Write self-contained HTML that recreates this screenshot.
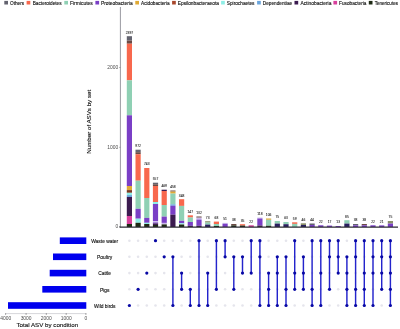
<!DOCTYPE html>
<html><head><meta charset="utf-8"><title>UpSet plot</title>
<style>html,body{margin:0;padding:0;background:#fff}svg{display:block}text{font-family:"Liberation Sans",Arial,sans-serif}</style></head><body>
<svg width="400" height="329" viewBox="0 0 400 329">
<rect width="400" height="329" fill="#fff"/>
<g font-size="4.9" fill="#111" stroke="#111" stroke-width="0.12">
<rect x="4.3" y="0.9" width="3.7" height="3.6" fill="#63636f" stroke="none"/>
<text x="10.0" y="4.9" textLength="14.2" lengthAdjust="spacingAndGlyphs">Others</text>
<rect x="26.6" y="0.9" width="3.7" height="3.6" fill="#f8684d" stroke="none"/>
<text x="32.7" y="4.9" textLength="28.9" lengthAdjust="spacingAndGlyphs">Bacteroidetes</text>
<rect x="64.3" y="0.9" width="3.7" height="3.6" fill="#8fd0b4" stroke="none"/>
<text x="70.0" y="4.9" textLength="22.7" lengthAdjust="spacingAndGlyphs">Firmicutes</text>
<rect x="95.4" y="0.9" width="3.7" height="3.6" fill="#7a3fc6" stroke="none"/>
<text x="100.9" y="4.9" textLength="31.7" lengthAdjust="spacingAndGlyphs">Proteobacteria</text>
<rect x="135.3" y="0.9" width="3.7" height="3.6" fill="#e0aa34" stroke="none"/>
<text x="141.0" y="4.9" textLength="28.6" lengthAdjust="spacingAndGlyphs">Acidobacteria</text>
<rect x="172.1" y="0.9" width="3.7" height="3.6" fill="#a8482c" stroke="none"/>
<text x="177.8" y="4.9" textLength="41.1" lengthAdjust="spacingAndGlyphs">Epsilonbacteraeota</text>
<rect x="221.1" y="0.9" width="3.7" height="3.6" fill="#8eeee6" stroke="none"/>
<text x="226.8" y="4.9" textLength="27.7" lengthAdjust="spacingAndGlyphs">Spirochaetes</text>
<rect x="257.1" y="0.9" width="3.7" height="3.6" fill="#6aa5dc" stroke="none"/>
<text x="262.8" y="4.9" textLength="29.4" lengthAdjust="spacingAndGlyphs">Dependentiae</text>
<rect x="294.5" y="0.9" width="3.7" height="3.6" fill="#3b1b50" stroke="none"/>
<text x="300.4" y="4.9" textLength="31.0" lengthAdjust="spacingAndGlyphs">Actinobacteria</text>
<rect x="333.4" y="0.9" width="3.7" height="3.6" fill="#d8409c" stroke="none"/>
<text x="339.1" y="4.9" textLength="27.3" lengthAdjust="spacingAndGlyphs">Fusobacteria</text>
<rect x="368.8" y="0.9" width="3.7" height="3.6" fill="#1e2a14" stroke="none"/>
<text x="374.7" y="4.9" textLength="23.3" lengthAdjust="spacingAndGlyphs">Tenericutes</text>
</g>
<line x1="120.4" y1="7" x2="120.4" y2="227.5" stroke="#9a9aa2" stroke-width="1"/>
<g font-size="4.9" fill="#4d4d4d" text-anchor="end">
<line x1="119.2" y1="226.5" x2="120.4" y2="226.5" stroke="#777" stroke-width="0.6"/>
<text x="118.2" y="228.25">0</text>
<line x1="119.2" y1="147.3" x2="120.4" y2="147.3" stroke="#777" stroke-width="0.6"/>
<text x="118.2" y="149.05">1000</text>
<line x1="119.2" y1="67.5" x2="120.4" y2="67.5" stroke="#777" stroke-width="0.6"/>
<text x="118.2" y="69.25">2000</text>
</g>
<text transform="translate(91.1,121.8) rotate(-90)" font-size="6.2" text-anchor="middle" fill="#111" stroke="#111" stroke-width="0.12">Number of ASVs by set</text>
<rect x="126.80" y="36.2" width="5.2" height="4.40" fill="#63636f"/>
<rect x="126.80" y="40.6" width="5.2" height="3.10" fill="#6b4a44"/>
<rect x="126.80" y="43.7" width="5.2" height="36.60" fill="#f8684d"/>
<rect x="126.80" y="80.3" width="5.2" height="35.00" fill="#8fd0b4"/>
<rect x="126.80" y="115.3" width="5.2" height="70.70" fill="#7a3fc6"/>
<rect x="126.80" y="186.0" width="5.2" height="4.10" fill="#e0aa34"/>
<rect x="126.80" y="190.1" width="5.2" height="2.70" fill="#7a3a22"/>
<rect x="126.80" y="192.8" width="5.2" height="2.30" fill="#8eeee6"/>
<rect x="126.80" y="195.1" width="5.2" height="1.90" fill="#6aa5dc"/>
<rect x="126.80" y="197.0" width="5.2" height="19.00" fill="#3b1b50"/>
<rect x="126.80" y="216.0" width="5.2" height="8.00" fill="#d8409c"/>
<rect x="126.80" y="224.0" width="5.2" height="3.00" fill="#1e2a14"/>
<text x="129.40" y="33.50" font-size="3.3" text-anchor="middle" fill="#222" stroke="#222" stroke-width="0.08">2397</text>
<rect x="135.50" y="149.7" width="5.2" height="2.50" fill="#63636f"/>
<rect x="135.50" y="152.2" width="5.2" height="2.00" fill="#6b4a44"/>
<rect x="135.50" y="154.2" width="5.2" height="26.50" fill="#f8684d"/>
<rect x="135.50" y="180.7" width="5.2" height="28.10" fill="#8fd0b4"/>
<rect x="135.50" y="208.8" width="5.2" height="9.90" fill="#7a3fc6"/>
<rect x="135.50" y="218.7" width="5.2" height="4.10" fill="#8eeee6"/>
<rect x="135.50" y="222.8" width="5.2" height="4.20" fill="#1e2a14"/>
<text x="138.10" y="147.00" font-size="3.3" text-anchor="middle" fill="#222" stroke="#222" stroke-width="0.08">972</text>
<rect x="144.20" y="168.0" width="5.2" height="30.00" fill="#f8684d"/>
<rect x="144.20" y="198.0" width="5.2" height="19.90" fill="#8fd0b4"/>
<rect x="144.20" y="217.9" width="5.2" height="4.90" fill="#7a3fc6"/>
<rect x="144.20" y="222.8" width="5.2" height="1.20" fill="#8eeee6"/>
<rect x="144.20" y="224.0" width="5.2" height="3.00" fill="#1e2a14"/>
<text x="146.80" y="165.30" font-size="3.3" text-anchor="middle" fill="#222" stroke="#222" stroke-width="0.08">743</text>
<rect x="152.90" y="182.7" width="5.2" height="1.60" fill="#63636f"/>
<rect x="152.90" y="184.3" width="5.2" height="1.70" fill="#6b4a44"/>
<rect x="152.90" y="186.0" width="5.2" height="16.00" fill="#f8684d"/>
<rect x="152.90" y="202.0" width="5.2" height="2.00" fill="#8eeee6"/>
<rect x="152.90" y="204.0" width="5.2" height="17.20" fill="#7a3fc6"/>
<rect x="152.90" y="221.2" width="5.2" height="1.20" fill="#c9b8ea"/>
<rect x="152.90" y="222.4" width="5.2" height="1.00" fill="#7a3fc6"/>
<rect x="152.90" y="223.4" width="5.2" height="1.60" fill="#3b1b50"/>
<rect x="152.90" y="225.0" width="5.2" height="2.00" fill="#1e2a14"/>
<text x="155.50" y="180.00" font-size="3.3" text-anchor="middle" fill="#222" stroke="#222" stroke-width="0.08">557</text>
<rect x="161.60" y="189.7" width="5.2" height="1.30" fill="#3b1b50"/>
<rect x="161.60" y="191.0" width="5.2" height="14.00" fill="#f8684d"/>
<rect x="161.60" y="205.0" width="5.2" height="11.60" fill="#8fd0b4"/>
<rect x="161.60" y="216.6" width="5.2" height="6.30" fill="#7a3fc6"/>
<rect x="161.60" y="222.9" width="5.2" height="1.50" fill="#c9b8ea"/>
<rect x="161.60" y="224.4" width="5.2" height="2.60" fill="#1e2a14"/>
<text x="164.20" y="187.00" font-size="3.3" text-anchor="middle" fill="#222" stroke="#222" stroke-width="0.08">469</text>
<rect x="170.30" y="190.5" width="5.2" height="1.10" fill="#6b4a44"/>
<rect x="170.30" y="191.6" width="5.2" height="2.00" fill="#e0aa34"/>
<rect x="170.30" y="193.6" width="5.2" height="10.70" fill="#8fd0b4"/>
<rect x="170.30" y="204.3" width="5.2" height="1.50" fill="#6aa5dc"/>
<rect x="170.30" y="205.8" width="5.2" height="8.90" fill="#7a3fc6"/>
<rect x="170.30" y="214.7" width="5.2" height="12.30" fill="#3b1b50"/>
<text x="172.90" y="187.80" font-size="3.3" text-anchor="middle" fill="#222" stroke="#222" stroke-width="0.08">458</text>
<rect x="179.00" y="199.2" width="5.2" height="6.70" fill="#f8684d"/>
<rect x="179.00" y="205.9" width="5.2" height="14.90" fill="#8fd0b4"/>
<rect x="179.00" y="220.8" width="5.2" height="2.50" fill="#7a3fc6"/>
<rect x="179.00" y="223.3" width="5.2" height="1.20" fill="#8eeee6"/>
<rect x="179.00" y="224.5" width="5.2" height="2.50" fill="#1e2a14"/>
<text x="181.60" y="196.50" font-size="3.3" text-anchor="middle" fill="#222" stroke="#222" stroke-width="0.08">348</text>
<rect x="187.70" y="215.3" width="5.2" height="2.20" fill="#f8684d"/>
<rect x="187.70" y="217.5" width="5.2" height="4.50" fill="#8fd0b4"/>
<rect x="187.70" y="222.0" width="5.2" height="3.80" fill="#7a3fc6"/>
<rect x="187.70" y="225.8" width="5.2" height="1.20" fill="#3b1b50"/>
<text x="190.30" y="212.60" font-size="3.3" text-anchor="middle" fill="#222" stroke="#222" stroke-width="0.08">147</text>
<rect x="196.40" y="216.5" width="5.2" height="1.20" fill="#6b4a44"/>
<rect x="196.40" y="217.7" width="5.2" height="1.90" fill="#c9b8ea"/>
<rect x="196.40" y="219.6" width="5.2" height="6.20" fill="#7a3fc6"/>
<rect x="196.40" y="225.8" width="5.2" height="1.20" fill="#3b1b50"/>
<text x="199.00" y="213.80" font-size="3.3" text-anchor="middle" fill="#222" stroke="#222" stroke-width="0.08">132</text>
<rect x="205.10" y="221.2" width="5.2" height="1.40" fill="#8a8f6a"/>
<rect x="205.10" y="222.6" width="5.2" height="2.00" fill="#8fd0b4"/>
<rect x="205.10" y="224.6" width="5.2" height="2.40" fill="#2a2060"/>
<text x="207.70" y="218.50" font-size="3.3" text-anchor="middle" fill="#222" stroke="#222" stroke-width="0.08">73</text>
<rect x="213.80" y="221.6" width="5.2" height="2.40" fill="#f8684d"/>
<rect x="213.80" y="224.0" width="5.2" height="2.00" fill="#8fd0b4"/>
<rect x="213.80" y="226.0" width="5.2" height="1.00" fill="#1e2a14"/>
<text x="216.40" y="218.90" font-size="3.3" text-anchor="middle" fill="#222" stroke="#222" stroke-width="0.08">68</text>
<rect x="222.50" y="222.9" width="5.2" height="0.90" fill="#c9b8ea"/>
<rect x="222.50" y="223.8" width="5.2" height="3.20" fill="#7a3fc6"/>
<text x="225.10" y="220.20" font-size="3.3" text-anchor="middle" fill="#222" stroke="#222" stroke-width="0.08">51</text>
<rect x="231.20" y="224.0" width="5.2" height="1.40" fill="#6b4a44"/>
<rect x="231.20" y="225.4" width="5.2" height="1.60" fill="#1e2a14"/>
<text x="233.80" y="221.30" font-size="3.3" text-anchor="middle" fill="#222" stroke="#222" stroke-width="0.08">38</text>
<rect x="239.90" y="224.2" width="5.2" height="1.40" fill="#f8684d"/>
<rect x="239.90" y="225.6" width="5.2" height="1.40" fill="#1e2a14"/>
<text x="242.50" y="221.50" font-size="3.3" text-anchor="middle" fill="#222" stroke="#222" stroke-width="0.08">35</text>
<rect x="248.60" y="225.3" width="5.2" height="1.70" fill="#d8409c"/>
<text x="251.20" y="222.60" font-size="3.3" text-anchor="middle" fill="#222" stroke="#222" stroke-width="0.08">22</text>
<rect x="257.30" y="217.6" width="5.2" height="0.90" fill="#c9b8ea"/>
<rect x="257.30" y="218.5" width="5.2" height="7.00" fill="#7a3fc6"/>
<rect x="257.30" y="225.5" width="5.2" height="1.50" fill="#3b1b50"/>
<text x="259.90" y="214.90" font-size="3.3" text-anchor="middle" fill="#222" stroke="#222" stroke-width="0.08">118</text>
<rect x="266.00" y="218.5" width="5.2" height="1.30" fill="#e0aa34"/>
<rect x="266.00" y="219.8" width="5.2" height="6.00" fill="#8fd0b4"/>
<rect x="266.00" y="225.8" width="5.2" height="1.20" fill="#1e2a14"/>
<text x="268.60" y="215.80" font-size="3.3" text-anchor="middle" fill="#222" stroke="#222" stroke-width="0.08">106</text>
<rect x="274.70" y="221.0" width="5.2" height="2.60" fill="#8fd0b4"/>
<rect x="274.70" y="223.6" width="5.2" height="3.40" fill="#2a2060"/>
<text x="277.30" y="218.30" font-size="3.3" text-anchor="middle" fill="#222" stroke="#222" stroke-width="0.08">75</text>
<rect x="283.40" y="222.0" width="5.2" height="2.20" fill="#8fd0b4"/>
<rect x="283.40" y="224.2" width="5.2" height="2.80" fill="#2a2060"/>
<text x="286.00" y="219.30" font-size="3.3" text-anchor="middle" fill="#222" stroke="#222" stroke-width="0.08">63</text>
<rect x="292.10" y="222.3" width="5.2" height="1.60" fill="#f8684d"/>
<rect x="292.10" y="223.9" width="5.2" height="3.10" fill="#8fd0b4"/>
<text x="294.70" y="219.60" font-size="3.3" text-anchor="middle" fill="#222" stroke="#222" stroke-width="0.08">59</text>
<rect x="300.80" y="223.3" width="5.2" height="1.70" fill="#8a8f6a"/>
<rect x="300.80" y="225.0" width="5.2" height="2.00" fill="#2a2060"/>
<text x="303.40" y="220.60" font-size="3.3" text-anchor="middle" fill="#222" stroke="#222" stroke-width="0.08">46</text>
<rect x="309.50" y="223.5" width="5.2" height="1.50" fill="#63636f"/>
<rect x="309.50" y="225.0" width="5.2" height="2.00" fill="#7a3fc6"/>
<text x="312.10" y="220.80" font-size="3.3" text-anchor="middle" fill="#222" stroke="#222" stroke-width="0.08">44</text>
<rect x="318.20" y="225.3" width="5.2" height="1.70" fill="#7a3fc6"/>
<text x="320.80" y="222.60" font-size="3.3" text-anchor="middle" fill="#222" stroke="#222" stroke-width="0.08">22</text>
<rect x="326.90" y="225.6" width="5.2" height="1.40" fill="#7a3fc6"/>
<text x="329.50" y="222.90" font-size="3.3" text-anchor="middle" fill="#222" stroke="#222" stroke-width="0.08">17</text>
<rect x="335.60" y="226.0" width="5.2" height="1.00" fill="#7a3fc6"/>
<text x="338.20" y="223.30" font-size="3.3" text-anchor="middle" fill="#222" stroke="#222" stroke-width="0.08">13</text>
<rect x="344.30" y="220.2" width="5.2" height="3.40" fill="#8fd0b4"/>
<rect x="344.30" y="223.6" width="5.2" height="3.40" fill="#2a2060"/>
<text x="346.90" y="217.50" font-size="3.3" text-anchor="middle" fill="#222" stroke="#222" stroke-width="0.08">85</text>
<rect x="353.00" y="224.0" width="5.2" height="1.30" fill="#63636f"/>
<rect x="353.00" y="225.3" width="5.2" height="1.70" fill="#7a3fc6"/>
<text x="355.60" y="221.30" font-size="3.3" text-anchor="middle" fill="#222" stroke="#222" stroke-width="0.08">38</text>
<rect x="361.70" y="224.0" width="5.2" height="1.30" fill="#6b4a44"/>
<rect x="361.70" y="225.3" width="5.2" height="1.70" fill="#7a3fc6"/>
<text x="364.30" y="221.30" font-size="3.3" text-anchor="middle" fill="#222" stroke="#222" stroke-width="0.08">38</text>
<rect x="370.40" y="225.3" width="5.2" height="1.70" fill="#7a3fc6"/>
<text x="373.00" y="222.60" font-size="3.3" text-anchor="middle" fill="#222" stroke="#222" stroke-width="0.08">22</text>
<rect x="379.10" y="225.4" width="5.2" height="1.60" fill="#7a3fc6"/>
<text x="381.70" y="222.70" font-size="3.3" text-anchor="middle" fill="#222" stroke="#222" stroke-width="0.08">21</text>
<rect x="387.80" y="221.0" width="5.2" height="2.60" fill="#8a8f6a"/>
<rect x="387.80" y="223.6" width="5.2" height="3.40" fill="#7a3fc6"/>
<text x="390.40" y="218.30" font-size="3.3" text-anchor="middle" fill="#222" stroke="#222" stroke-width="0.08">75</text>
<line x1="119.5" y1="227.1" x2="398" y2="227.1" stroke="#2a2a30" stroke-width="1.1"/>
<circle cx="129.40" cy="240.7" r="1.3" fill="#e5e5ec"/>
<circle cx="129.40" cy="256.8" r="1.3" fill="#e5e5ec"/>
<circle cx="129.40" cy="273.1" r="1.3" fill="#e5e5ec"/>
<circle cx="129.40" cy="289.3" r="1.3" fill="#e5e5ec"/>
<circle cx="138.10" cy="240.7" r="1.3" fill="#e5e5ec"/>
<circle cx="138.10" cy="256.8" r="1.3" fill="#e5e5ec"/>
<circle cx="138.10" cy="273.1" r="1.3" fill="#e5e5ec"/>
<circle cx="138.10" cy="305.5" r="1.3" fill="#e5e5ec"/>
<circle cx="146.80" cy="240.7" r="1.3" fill="#e5e5ec"/>
<circle cx="146.80" cy="256.8" r="1.3" fill="#e5e5ec"/>
<circle cx="146.80" cy="289.3" r="1.3" fill="#e5e5ec"/>
<circle cx="146.80" cy="305.5" r="1.3" fill="#e5e5ec"/>
<circle cx="155.50" cy="256.8" r="1.3" fill="#e5e5ec"/>
<circle cx="155.50" cy="273.1" r="1.3" fill="#e5e5ec"/>
<circle cx="155.50" cy="289.3" r="1.3" fill="#e5e5ec"/>
<circle cx="155.50" cy="305.5" r="1.3" fill="#e5e5ec"/>
<circle cx="164.20" cy="240.7" r="1.3" fill="#e5e5ec"/>
<circle cx="164.20" cy="273.1" r="1.3" fill="#e5e5ec"/>
<circle cx="164.20" cy="289.3" r="1.3" fill="#e5e5ec"/>
<circle cx="164.20" cy="305.5" r="1.3" fill="#e5e5ec"/>
<circle cx="172.90" cy="240.7" r="1.3" fill="#e5e5ec"/>
<circle cx="172.90" cy="273.1" r="1.3" fill="#e5e5ec"/>
<circle cx="172.90" cy="289.3" r="1.3" fill="#e5e5ec"/>
<circle cx="181.60" cy="240.7" r="1.3" fill="#e5e5ec"/>
<circle cx="181.60" cy="256.8" r="1.3" fill="#e5e5ec"/>
<circle cx="181.60" cy="305.5" r="1.3" fill="#e5e5ec"/>
<circle cx="190.30" cy="240.7" r="1.3" fill="#e5e5ec"/>
<circle cx="190.30" cy="256.8" r="1.3" fill="#e5e5ec"/>
<circle cx="190.30" cy="273.1" r="1.3" fill="#e5e5ec"/>
<circle cx="199.00" cy="256.8" r="1.3" fill="#e5e5ec"/>
<circle cx="199.00" cy="273.1" r="1.3" fill="#e5e5ec"/>
<circle cx="199.00" cy="289.3" r="1.3" fill="#e5e5ec"/>
<circle cx="207.70" cy="240.7" r="1.3" fill="#e5e5ec"/>
<circle cx="207.70" cy="256.8" r="1.3" fill="#e5e5ec"/>
<circle cx="207.70" cy="289.3" r="1.3" fill="#e5e5ec"/>
<circle cx="216.40" cy="256.8" r="1.3" fill="#e5e5ec"/>
<circle cx="216.40" cy="273.1" r="1.3" fill="#e5e5ec"/>
<circle cx="216.40" cy="305.5" r="1.3" fill="#e5e5ec"/>
<circle cx="225.10" cy="273.1" r="1.3" fill="#e5e5ec"/>
<circle cx="225.10" cy="289.3" r="1.3" fill="#e5e5ec"/>
<circle cx="225.10" cy="305.5" r="1.3" fill="#e5e5ec"/>
<circle cx="233.80" cy="240.7" r="1.3" fill="#e5e5ec"/>
<circle cx="233.80" cy="273.1" r="1.3" fill="#e5e5ec"/>
<circle cx="233.80" cy="305.5" r="1.3" fill="#e5e5ec"/>
<circle cx="242.50" cy="240.7" r="1.3" fill="#e5e5ec"/>
<circle cx="242.50" cy="289.3" r="1.3" fill="#e5e5ec"/>
<circle cx="242.50" cy="305.5" r="1.3" fill="#e5e5ec"/>
<circle cx="251.20" cy="256.8" r="1.3" fill="#e5e5ec"/>
<circle cx="251.20" cy="289.3" r="1.3" fill="#e5e5ec"/>
<circle cx="251.20" cy="305.5" r="1.3" fill="#e5e5ec"/>
<circle cx="259.90" cy="273.1" r="1.3" fill="#e5e5ec"/>
<circle cx="259.90" cy="289.3" r="1.3" fill="#e5e5ec"/>
<circle cx="268.60" cy="240.7" r="1.3" fill="#e5e5ec"/>
<circle cx="268.60" cy="256.8" r="1.3" fill="#e5e5ec"/>
<circle cx="277.30" cy="240.7" r="1.3" fill="#e5e5ec"/>
<circle cx="277.30" cy="289.3" r="1.3" fill="#e5e5ec"/>
<circle cx="286.00" cy="240.7" r="1.3" fill="#e5e5ec"/>
<circle cx="286.00" cy="273.1" r="1.3" fill="#e5e5ec"/>
<circle cx="294.70" cy="256.8" r="1.3" fill="#e5e5ec"/>
<circle cx="294.70" cy="305.5" r="1.3" fill="#e5e5ec"/>
<circle cx="303.40" cy="240.7" r="1.3" fill="#e5e5ec"/>
<circle cx="303.40" cy="305.5" r="1.3" fill="#e5e5ec"/>
<circle cx="312.10" cy="256.8" r="1.3" fill="#e5e5ec"/>
<circle cx="312.10" cy="273.1" r="1.3" fill="#e5e5ec"/>
<circle cx="320.80" cy="256.8" r="1.3" fill="#e5e5ec"/>
<circle cx="320.80" cy="289.3" r="1.3" fill="#e5e5ec"/>
<circle cx="329.50" cy="273.1" r="1.3" fill="#e5e5ec"/>
<circle cx="329.50" cy="305.5" r="1.3" fill="#e5e5ec"/>
<circle cx="338.20" cy="289.3" r="1.3" fill="#e5e5ec"/>
<circle cx="338.20" cy="305.5" r="1.3" fill="#e5e5ec"/>
<circle cx="346.90" cy="240.7" r="1.3" fill="#e5e5ec"/>
<circle cx="355.60" cy="273.1" r="1.3" fill="#e5e5ec"/>
<circle cx="364.30" cy="256.8" r="1.3" fill="#e5e5ec"/>
<circle cx="373.00" cy="289.3" r="1.3" fill="#e5e5ec"/>
<circle cx="381.70" cy="305.5" r="1.3" fill="#e5e5ec"/>
<circle cx="129.40" cy="305.5" r="1.6" fill="#0808a4"/>
<circle cx="138.10" cy="289.3" r="1.6" fill="#0808a4"/>
<circle cx="146.80" cy="273.1" r="1.6" fill="#0808a4"/>
<circle cx="155.50" cy="240.7" r="1.6" fill="#0808a4"/>
<circle cx="164.20" cy="256.8" r="1.6" fill="#0808a4"/>
<line x1="172.90" y1="256.8" x2="172.90" y2="305.5" stroke="#2424cc" stroke-width="1.45"/>
<circle cx="172.90" cy="256.8" r="1.6" fill="#0808a4"/>
<circle cx="172.90" cy="305.5" r="1.6" fill="#0808a4"/>
<line x1="181.60" y1="273.1" x2="181.60" y2="289.3" stroke="#2424cc" stroke-width="1.45"/>
<circle cx="181.60" cy="273.1" r="1.6" fill="#0808a4"/>
<circle cx="181.60" cy="289.3" r="1.6" fill="#0808a4"/>
<line x1="190.30" y1="289.3" x2="190.30" y2="305.5" stroke="#2424cc" stroke-width="1.45"/>
<circle cx="190.30" cy="289.3" r="1.6" fill="#0808a4"/>
<circle cx="190.30" cy="305.5" r="1.6" fill="#0808a4"/>
<line x1="199.00" y1="240.7" x2="199.00" y2="305.5" stroke="#2424cc" stroke-width="1.45"/>
<circle cx="199.00" cy="240.7" r="1.6" fill="#0808a4"/>
<circle cx="199.00" cy="305.5" r="1.6" fill="#0808a4"/>
<line x1="207.70" y1="273.1" x2="207.70" y2="305.5" stroke="#2424cc" stroke-width="1.45"/>
<circle cx="207.70" cy="273.1" r="1.6" fill="#0808a4"/>
<circle cx="207.70" cy="305.5" r="1.6" fill="#0808a4"/>
<line x1="216.40" y1="240.7" x2="216.40" y2="289.3" stroke="#2424cc" stroke-width="1.45"/>
<circle cx="216.40" cy="240.7" r="1.6" fill="#0808a4"/>
<circle cx="216.40" cy="289.3" r="1.6" fill="#0808a4"/>
<line x1="225.10" y1="240.7" x2="225.10" y2="256.8" stroke="#2424cc" stroke-width="1.45"/>
<circle cx="225.10" cy="240.7" r="1.6" fill="#0808a4"/>
<circle cx="225.10" cy="256.8" r="1.6" fill="#0808a4"/>
<line x1="233.80" y1="256.8" x2="233.80" y2="289.3" stroke="#2424cc" stroke-width="1.45"/>
<circle cx="233.80" cy="256.8" r="1.6" fill="#0808a4"/>
<circle cx="233.80" cy="289.3" r="1.6" fill="#0808a4"/>
<line x1="242.50" y1="256.8" x2="242.50" y2="273.1" stroke="#2424cc" stroke-width="1.45"/>
<circle cx="242.50" cy="256.8" r="1.6" fill="#0808a4"/>
<circle cx="242.50" cy="273.1" r="1.6" fill="#0808a4"/>
<line x1="251.20" y1="240.7" x2="251.20" y2="273.1" stroke="#2424cc" stroke-width="1.45"/>
<circle cx="251.20" cy="240.7" r="1.6" fill="#0808a4"/>
<circle cx="251.20" cy="273.1" r="1.6" fill="#0808a4"/>
<line x1="259.90" y1="240.7" x2="259.90" y2="305.5" stroke="#2424cc" stroke-width="1.45"/>
<circle cx="259.90" cy="240.7" r="1.6" fill="#0808a4"/>
<circle cx="259.90" cy="256.8" r="1.6" fill="#0808a4"/>
<circle cx="259.90" cy="305.5" r="1.6" fill="#0808a4"/>
<line x1="268.60" y1="273.1" x2="268.60" y2="305.5" stroke="#2424cc" stroke-width="1.45"/>
<circle cx="268.60" cy="273.1" r="1.6" fill="#0808a4"/>
<circle cx="268.60" cy="289.3" r="1.6" fill="#0808a4"/>
<circle cx="268.60" cy="305.5" r="1.6" fill="#0808a4"/>
<line x1="277.30" y1="256.8" x2="277.30" y2="305.5" stroke="#2424cc" stroke-width="1.45"/>
<circle cx="277.30" cy="256.8" r="1.6" fill="#0808a4"/>
<circle cx="277.30" cy="273.1" r="1.6" fill="#0808a4"/>
<circle cx="277.30" cy="305.5" r="1.6" fill="#0808a4"/>
<line x1="286.00" y1="256.8" x2="286.00" y2="305.5" stroke="#2424cc" stroke-width="1.45"/>
<circle cx="286.00" cy="256.8" r="1.6" fill="#0808a4"/>
<circle cx="286.00" cy="289.3" r="1.6" fill="#0808a4"/>
<circle cx="286.00" cy="305.5" r="1.6" fill="#0808a4"/>
<line x1="294.70" y1="240.7" x2="294.70" y2="289.3" stroke="#2424cc" stroke-width="1.45"/>
<circle cx="294.70" cy="240.7" r="1.6" fill="#0808a4"/>
<circle cx="294.70" cy="273.1" r="1.6" fill="#0808a4"/>
<circle cx="294.70" cy="289.3" r="1.6" fill="#0808a4"/>
<line x1="303.40" y1="256.8" x2="303.40" y2="289.3" stroke="#2424cc" stroke-width="1.45"/>
<circle cx="303.40" cy="256.8" r="1.6" fill="#0808a4"/>
<circle cx="303.40" cy="273.1" r="1.6" fill="#0808a4"/>
<circle cx="303.40" cy="289.3" r="1.6" fill="#0808a4"/>
<line x1="312.10" y1="240.7" x2="312.10" y2="305.5" stroke="#2424cc" stroke-width="1.45"/>
<circle cx="312.10" cy="240.7" r="1.6" fill="#0808a4"/>
<circle cx="312.10" cy="289.3" r="1.6" fill="#0808a4"/>
<circle cx="312.10" cy="305.5" r="1.6" fill="#0808a4"/>
<line x1="320.80" y1="240.7" x2="320.80" y2="305.5" stroke="#2424cc" stroke-width="1.45"/>
<circle cx="320.80" cy="240.7" r="1.6" fill="#0808a4"/>
<circle cx="320.80" cy="273.1" r="1.6" fill="#0808a4"/>
<circle cx="320.80" cy="305.5" r="1.6" fill="#0808a4"/>
<line x1="329.50" y1="240.7" x2="329.50" y2="289.3" stroke="#2424cc" stroke-width="1.45"/>
<circle cx="329.50" cy="240.7" r="1.6" fill="#0808a4"/>
<circle cx="329.50" cy="256.8" r="1.6" fill="#0808a4"/>
<circle cx="329.50" cy="289.3" r="1.6" fill="#0808a4"/>
<line x1="338.20" y1="240.7" x2="338.20" y2="273.1" stroke="#2424cc" stroke-width="1.45"/>
<circle cx="338.20" cy="240.7" r="1.6" fill="#0808a4"/>
<circle cx="338.20" cy="256.8" r="1.6" fill="#0808a4"/>
<circle cx="338.20" cy="273.1" r="1.6" fill="#0808a4"/>
<line x1="346.90" y1="256.8" x2="346.90" y2="305.5" stroke="#2424cc" stroke-width="1.45"/>
<circle cx="346.90" cy="256.8" r="1.6" fill="#0808a4"/>
<circle cx="346.90" cy="273.1" r="1.6" fill="#0808a4"/>
<circle cx="346.90" cy="289.3" r="1.6" fill="#0808a4"/>
<circle cx="346.90" cy="305.5" r="1.6" fill="#0808a4"/>
<line x1="355.60" y1="240.7" x2="355.60" y2="305.5" stroke="#2424cc" stroke-width="1.45"/>
<circle cx="355.60" cy="240.7" r="1.6" fill="#0808a4"/>
<circle cx="355.60" cy="256.8" r="1.6" fill="#0808a4"/>
<circle cx="355.60" cy="289.3" r="1.6" fill="#0808a4"/>
<circle cx="355.60" cy="305.5" r="1.6" fill="#0808a4"/>
<line x1="364.30" y1="240.7" x2="364.30" y2="305.5" stroke="#2424cc" stroke-width="1.45"/>
<circle cx="364.30" cy="240.7" r="1.6" fill="#0808a4"/>
<circle cx="364.30" cy="273.1" r="1.6" fill="#0808a4"/>
<circle cx="364.30" cy="289.3" r="1.6" fill="#0808a4"/>
<circle cx="364.30" cy="305.5" r="1.6" fill="#0808a4"/>
<line x1="373.00" y1="240.7" x2="373.00" y2="305.5" stroke="#2424cc" stroke-width="1.45"/>
<circle cx="373.00" cy="240.7" r="1.6" fill="#0808a4"/>
<circle cx="373.00" cy="256.8" r="1.6" fill="#0808a4"/>
<circle cx="373.00" cy="273.1" r="1.6" fill="#0808a4"/>
<circle cx="373.00" cy="305.5" r="1.6" fill="#0808a4"/>
<line x1="381.70" y1="240.7" x2="381.70" y2="289.3" stroke="#2424cc" stroke-width="1.45"/>
<circle cx="381.70" cy="240.7" r="1.6" fill="#0808a4"/>
<circle cx="381.70" cy="256.8" r="1.6" fill="#0808a4"/>
<circle cx="381.70" cy="273.1" r="1.6" fill="#0808a4"/>
<circle cx="381.70" cy="289.3" r="1.6" fill="#0808a4"/>
<line x1="390.40" y1="240.7" x2="390.40" y2="305.5" stroke="#2424cc" stroke-width="1.45"/>
<circle cx="390.40" cy="240.7" r="1.6" fill="#0808a4"/>
<circle cx="390.40" cy="256.8" r="1.6" fill="#0808a4"/>
<circle cx="390.40" cy="273.1" r="1.6" fill="#0808a4"/>
<circle cx="390.40" cy="289.3" r="1.6" fill="#0808a4"/>
<circle cx="390.40" cy="305.5" r="1.6" fill="#0808a4"/>
<g font-size="4.9" fill="#111" stroke="#111" stroke-width="0.12" text-anchor="middle">
<text x="104.7" y="243.0">Waste water</text>
<text x="104.7" y="259.1">Poultry</text>
<text x="104.7" y="275.4">Cattle</text>
<text x="104.7" y="291.6">Pigs</text>
<text x="104.7" y="307.8">Wild birds</text>
</g>
<rect x="59.8" y="237.4" width="26.5" height="6.6" fill="#0000ee"/>
<rect x="53.0" y="253.5" width="33.3" height="6.6" fill="#0000ee"/>
<rect x="49.7" y="269.8" width="36.6" height="6.6" fill="#0000ee"/>
<rect x="42.3" y="286.0" width="44.0" height="6.6" fill="#0000ee"/>
<rect x="8.0" y="302.2" width="78.3" height="6.6" fill="#0000ee"/>
<line x1="5.6" y1="313.6" x2="86.3" y2="313.6" stroke="#c4c4cc" stroke-width="0.7"/>
<g font-size="4.9" fill="#4d4d4d" text-anchor="middle">
<line x1="5.6" y1="313.3" x2="5.6" y2="314.7" stroke="#555" stroke-width="0.7"/>
<text x="5.8" y="319.7">4000</text>
<line x1="26.1" y1="313.3" x2="26.1" y2="314.7" stroke="#555" stroke-width="0.7"/>
<text x="26.1" y="319.7">3000</text>
<line x1="46.3" y1="313.3" x2="46.3" y2="314.7" stroke="#555" stroke-width="0.7"/>
<text x="46.3" y="319.7">2000</text>
<line x1="66.2" y1="313.3" x2="66.2" y2="314.7" stroke="#555" stroke-width="0.7"/>
<text x="66.2" y="319.7">1000</text>
<line x1="85.9" y1="313.3" x2="85.9" y2="314.7" stroke="#555" stroke-width="0.7"/>
<text x="85.9" y="319.7">0</text>
</g>
<text x="47.3" y="327" font-size="6.2" text-anchor="middle" fill="#111" stroke="#111" stroke-width="0.12">Total ASV by condition</text>
</svg></body></html>
